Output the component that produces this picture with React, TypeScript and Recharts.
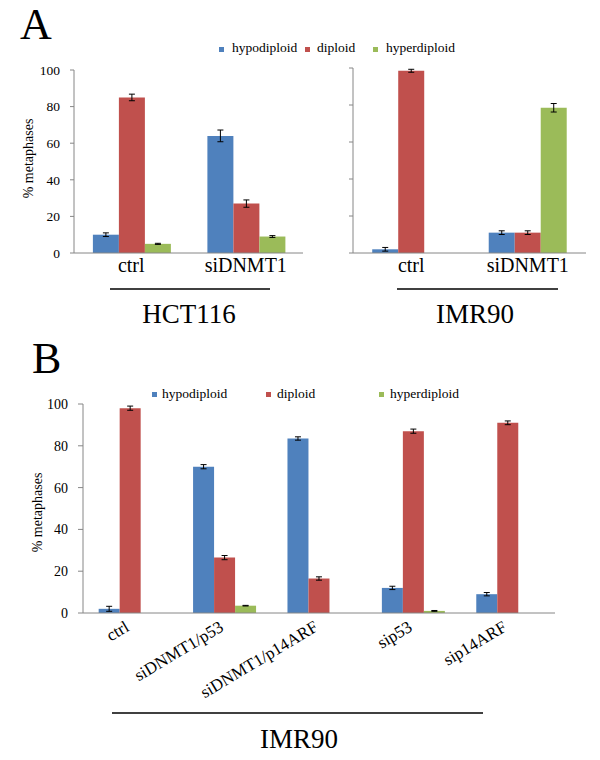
import React from 'react';
import { BarChart, Bar, XAxis, YAxis, ErrorBar, Label } from 'recharts';

const FONT = "'Liberation Serif', 'Times New Roman', serif";

const seriesNames = ['hypodiploid', 'diploid', 'hyperdiploid'];
const seriesColors = ['#4F81BD', '#C0504D', '#9BBB59'];
const yTicks = [0, 20, 40, 60, 80, 100];

// Panel A, HCT116
const hctCategories = ['ctrl', 'siDNMT1'];
const hctHypo = [10, 64];
const hctHypoErr = [1, 3.2];
const hctDip = [85, 27];
const hctDipErr = [1.8, 2];
const hctHyper = [5, 9];
const hctHyperErr = [0.3, 0.5];

// Panel A, IMR90
const imrACategories = ['ctrl', 'siDNMT1'];
const imrAHypo = [2, 11];
const imrAHypoErr = [1, 1];
const imrADip = [98.5, 11];
const imrADipErr = [0.8, 1];
const imrAHyper = [0, 78.5];
const imrAHyperErr = [null, 2.3];

// Panel B, IMR90
const imrBCategories = ['ctrl', 'siDNMT1/p53', 'siDNMT1/p14ARF', 'sip53', 'sip14ARF'];
const imrBHypo = [2, 70, 83.5, 12, 9];
const imrBHypoErr = [1.2, 1, 0.8, 0.8, 0.8];
const imrBDip = [98, 26.5, 16.5, 87, 91];
const imrBDipErr = [1, 1, 0.8, 1, 0.9];
const imrBHyper = [0, 3.5, 0, 1, 0];
const imrBHyperErr = [null, 0.15, null, 0.2, null];

const build = (cats: string[], a: number[], ae: any[], b: number[], be: any[], c: number[], ce: any[]) =>
  cats.map((cat, i) => ({ cat, s0: a[i], e0: ae[i], s1: b[i], e1: be[i], s2: c[i], e2: ce[i] }));

const hctRows = build(hctCategories, hctHypo, hctHypoErr, hctDip, hctDipErr, hctHyper, hctHyperErr);
const imrARows = build(imrACategories, imrAHypo, imrAHypoErr, imrADip, imrADipErr, imrAHyper, imrAHyperErr);
const imrBRows = build(imrBCategories, imrBHypo, imrBHypoErr, imrBDip, imrBDipErr, imrBHyper, imrBHyperErr);

const AXIS = '#868686';

const renderBars = () =>
  seriesNames.map((name, i) => (
    <Bar
      key={name}
      name={name}
      dataKey={`s${i}`}
      xAxisId="cat"
      fill={seriesColors[i]}
      isAnimationActive={false}
    >
      <ErrorBar dataKey={`e${i}`} width={3} stroke="#000" strokeWidth={1} direction="y" isAnimationActive={false} />
    </Bar>
  ));

const boundaryTicks = (n: number) => Array.from({ length: n + 1 }, (_, i) => i);

const RotTick = (props: any) => {
  const { x, y, payload } = props;
  return (
    <text
      x={x}
      y={y}
      transform={`rotate(-31, ${x}, ${y})`}
      textAnchor="end"
      fontSize={17}
      fill="#000"
      fontFamily={FONT}
    >
      {payload.value}
    </text>
  );
};

export default function App() {
  return (
    <div
      style={{
        position: 'absolute',
        left: 0,
        top: 0,
        width: 600,
        height: 760,
        background: '#fff',
        fontFamily: FONT,
        overflow: 'hidden',
      }}
    >
      {/* Panel A left: HCT116 */}
      <div style={{ position: 'absolute', left: 0, top: 0 }}>
        <BarChart
          width={305}
          height={300}
          data={hctRows}
          margin={{ top: 70, right: 2, left: 0, bottom: 0 }}
          barGap={0}
          barCategoryGap="16.5%"
        >
          <XAxis
            xAxisId="bd"
            type="number"
            domain={[0, hctCategories.length]}
            ticks={boundaryTicks(hctCategories.length)}
            allowDataOverflow
            height={0}
            axisLine={false}
            tickLine={{ stroke: AXIS }}
            tickSize={5}
            tickFormatter={() => ''}
          />
          <XAxis
            xAxisId="cat"
            dataKey="cat"
            height={47}
            axisLine={{ stroke: AXIS }}
            tickLine={false}
            tickSize={0}
            tickMargin={5}
            tick={{ fontSize: 20, fill: '#000', fontFamily: FONT }}
            interval={0}
          />
          <YAxis
            width={74}
            domain={[0, 100]}
            ticks={yTicks}
            axisLine={{ stroke: AXIS }}
            tickLine={{ stroke: AXIS }}
            tickSize={4}
            tickMargin={10}
            tick={{ fontSize: 13.5, fill: '#000', fontFamily: FONT }}
          >
            <Label
              value="% metaphases"
              angle={-90}
              position="center"
              dx={-9}
              dy={-3}
              style={{ fontSize: 14, fill: '#000', fontFamily: FONT }}
            />
          </YAxis>
          {renderBars()}
        </BarChart>
      </div>

      {/* Panel A right: IMR90 */}
      <div style={{ position: 'absolute', left: 300, top: 0 }}>
        <BarChart
          width={300}
          height={300}
          data={imrARows}
          margin={{ top: 68, right: 14, left: 0, bottom: 0 }}
          barGap={0}
          barCategoryGap="16.5%"
        >
          <XAxis
            xAxisId="bd"
            type="number"
            domain={[0, imrACategories.length]}
            ticks={boundaryTicks(imrACategories.length)}
            allowDataOverflow
            height={0}
            axisLine={false}
            tickLine={{ stroke: AXIS }}
            tickSize={5}
            tickFormatter={() => ''}
          />
          <XAxis
            xAxisId="cat"
            dataKey="cat"
            height={47}
            axisLine={{ stroke: AXIS }}
            tickLine={false}
            tickSize={0}
            tickMargin={5}
            tick={{ fontSize: 20, fill: '#000', fontFamily: FONT }}
            interval={0}
          />
          <YAxis
            width={53}
            domain={[0, 100]}
            ticks={yTicks}
            axisLine={{ stroke: AXIS }}
            tickLine={{ stroke: AXIS }}
            tickSize={4}
            tickFormatter={() => ''}
          />
          {renderBars()}
        </BarChart>
      </div>

      {/* Panel B */}
      <div style={{ position: 'absolute', left: 0, top: 330 }}>
        <BarChart
          width={600}
          height={430}
          data={imrBRows}
          margin={{ top: 74, right: 45, left: 0, bottom: 0 }}
          barGap={0}
          barCategoryGap="16.6%"
        >
          <XAxis
            xAxisId="bd"
            type="number"
            domain={[0, imrBCategories.length]}
            ticks={boundaryTicks(imrBCategories.length)}
            allowDataOverflow
            height={0}
            axisLine={false}
            tickLine={{ stroke: AXIS }}
            tickSize={5}
            tickFormatter={() => ''}
          />
          <XAxis
            xAxisId="cat"
            dataKey="cat"
            height={147}
            axisLine={{ stroke: AXIS }}
            tickLine={false}
            tickSize={0}
            tickMargin={17}
            tick={<RotTick />}
            interval={0}
          />
          <YAxis
            width={83}
            domain={[0, 100]}
            ticks={yTicks}
            axisLine={{ stroke: AXIS }}
            tickLine={{ stroke: AXIS }}
            tickSize={5}
            tickMargin={10}
            tick={{ fontSize: 14, fill: '#000', fontFamily: FONT }}
          >
            <Label
              value="% metaphases"
              angle={-90}
              position="center"
              dx={-4}
              dy={4}
              style={{ fontSize: 14, fill: '#000', fontFamily: FONT }}
            />
          </YAxis>
          {renderBars()}
        </BarChart>
      </div>

      {/* Annotations: panel letters, legends, group labels */}
      <svg
        width={600}
        height={760}
        style={{ position: 'absolute', left: 0, top: 0, pointerEvents: 'none' }}
        fontFamily={FONT}
      >
        <text x={20} y={39} fontSize={44} fill="#000">A</text>
        <text x={32} y={373} fontSize={44} fill="#000">B</text>

        {seriesNames.map((name, i) => {
          const sx = [219, 305, 373][i];
          return (
            <g key={'la' + name}>
              <rect x={sx} y={47} width={5} height={5} fill={seriesColors[i]} />
              <text x={sx + (i === 1 ? 12 : 13)} y={52} fontSize={13.5} fill="#000">{name}</text>
            </g>
          );
        })}
        {seriesNames.map((name, i) => {
          const sx = [152, 266, 379][i];
          return (
            <g key={'lb' + name}>
              <rect x={sx} y={392} width={5} height={5} fill={seriesColors[i]} />
              <text x={sx + (i === 0 ? 10 : 11)} y={398} fontSize={13.5} fill="#000">{name}</text>
            </g>
          );
        })}

        <line x1={110} x2={270} y1={289} y2={289} stroke="#000" strokeWidth={1.5} />
        <text x={189} y={323} fontSize={27} textAnchor="middle" fill="#000">HCT116</text>
        <line x1={397} x2={558} y1={289} y2={289} stroke="#000" strokeWidth={1.5} />
        <text x={475} y={323} fontSize={27} textAnchor="middle" fill="#000">IMR90</text>

        <line x1={112} x2={483} y1={713} y2={713} stroke="#000" strokeWidth={1.5} />
        <text x={299} y={748} fontSize={27} textAnchor="middle" fill="#000">IMR90</text>
      </svg>
    </div>
  );
}
